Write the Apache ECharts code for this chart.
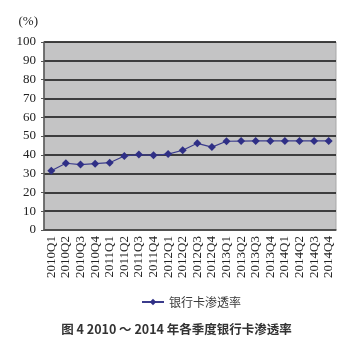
<!DOCTYPE html>
<html>
<head>
<meta charset="utf-8">
<script src="https://cdn.jsdelivr.net/npm/echarts@6/dist/echarts.min.js"></script>
<style>
  html, body { margin: 0; padding: 0; background: #ffffff; }
  #chart { width: 353px; height: 344px; }
</style>
</head>
<body>
<div id="chart"></div>
<script>
// Quarterly bank card penetration rate, 2010–2014 (%)
const quarters = [
  '2010Q1', '2010Q2', '2010Q3', '2010Q4',
  '2011Q1', '2011Q2', '2011Q3', '2011Q4',
  '2012Q1', '2012Q2', '2012Q3', '2012Q4',
  '2013Q1', '2013Q2', '2013Q3', '2013Q4',
  '2014Q1', '2014Q2', '2014Q3', '2014Q4'
];
const penetration = [
  31.5, 35.5, 34.8, 35.3,
  35.8, 39.4, 40.1, 39.7,
  40.4, 42.4, 46.1, 44.1,
  47.2, 47.3, 47.4, 47.4,
  47.4, 47.4, 47.4, 47.4
];
const seriesName = '银行卡渗透率';
const captionText = '图 4 2010 ～ 2014 年各季度银行卡渗透率';
const unitLabel = '(%)';

const serif = '"Liberation Serif", "DejaVu Serif", serif';
const cjk = '"Noto Sans CJK SC", sans-serif';

const chart = echarts.init(document.getElementById('chart'), null, { renderer: 'canvas' });
chart.setOption({
  animation: false,
  backgroundColor: '#ffffff',
  title: {
    text: captionText,
    left: 'center',
    top: 318,
    textStyle: { fontFamily: cjk, fontSize: 12.5, fontWeight: 'bold', color: '#333333' }
  },
  legend: {
    data: [seriesName],
    left: 136,
    top: 291,
    itemWidth: 22,
    itemHeight: 8,
    itemGap: 4,
    textStyle: { fontFamily: cjk, fontSize: 12, color: '#3a3a3a' }
  },
  grid: {
    left: 44, right: 17, top: 42, bottom: 114,
    show: true,
    backgroundColor: '#c4c4c5',
    borderColor: '#a8a8a8',
    borderWidth: 1
  },
  xAxis: {
    type: 'category',
    data: quarters,
    boundaryGap: true,
    axisLine: { lineStyle: { color: '#555555', width: 1.5 } },
    axisTick: { inside: true, length: 4, interval: 0, lineStyle: { color: '#444444' } },
    axisLabel: {
      interval: 0, rotate: 90, margin: 6,
      fontFamily: serif, fontSize: 13, color: '#222222'
    }
  },
  yAxis: {
    type: 'value',
    min: 0, max: 100, interval: 10,
    name: unitLabel,
    nameLocation: 'end',
    nameGap: 14,
    nameTextStyle: { fontFamily: serif, fontSize: 13, color: '#222222', align: 'right', padding: [0, 6, 0, 0] },
    axisLine: { show: true, lineStyle: { color: '#555555', width: 1.5 } },
    axisTick: { show: true, length: 3, lineStyle: { color: '#555555' } },
    axisLabel: { margin: 8, fontFamily: serif, fontSize: 13, color: '#222222' },
    splitLine: { show: true, lineStyle: { color: '#111111', width: 1.5 } }
  },
  series: [{
    name: seriesName,
    type: 'line',
    data: penetration,
    symbol: 'diamond',
    symbolSize: 8,
    lineStyle: { color: '#3b3c8c', width: 1.2 },
    itemStyle: { color: '#2f2f86' }
  }]
});
</script>
</body>
</html>
